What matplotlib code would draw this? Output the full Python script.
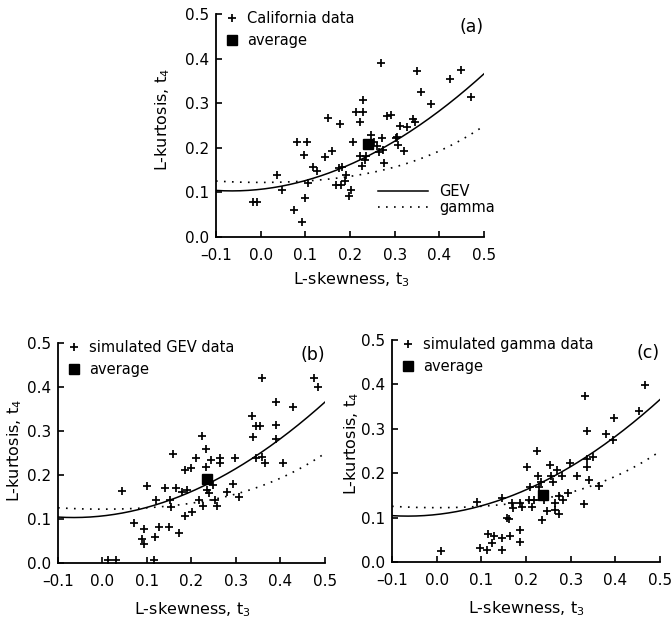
import numpy as np
import matplotlib
matplotlib.use("Agg")
import matplotlib.pyplot as plt
from matplotlib.lines import Line2D

plt.rcParams["font.family"] = ["DejaVu Sans"]
plt.rcParams["mathtext.default"] = "regular"

# L-moment ratio diagram polynomial approximations (Hosking):
# tau4 as a polynomial in tau3, coefficients from constant term upwards
gev_coef = [0.10701, 0.11090, 0.84838, -0.06669, 0.00567, -0.04208, 0.03763]
gamma_coef = [0.12240, 0.0, 0.30115, 0.0, 0.95812, 0.0, -0.57488, 0.0, 0.19383]

# (a) California data: L-skewness t3 and L-kurtosis t4
cal_t3 = [-0.018, -0.008, 0.036, 0.047, 0.075, 0.092, 0.081, 0.103, 0.097, 0.100,
          0.105, 0.118, 0.127, 0.144, 0.151, 0.160, 0.178, 0.176, 0.183, 0.169,
          0.181, 0.190, 0.189, 0.198, 0.202, 0.207, 0.213, 0.230, 0.230, 0.222,
          0.222, 0.228, 0.234, 0.248, 0.254, 0.260, 0.271, 0.269, 0.273, 0.277,
          0.282, 0.292, 0.303, 0.308, 0.312, 0.321, 0.328, 0.340, 0.346, 0.351,
          0.359, 0.381, 0.425, 0.449, 0.471, 0.235, 0.264, 0.306]
cal_t4 = [0.078, 0.078, 0.138, 0.106, 0.061, 0.033, 0.212, 0.212, 0.184, 0.087,
          0.121, 0.158, 0.147, 0.180, 0.266, 0.192, 0.254, 0.154, 0.158, 0.117,
          0.117, 0.140, 0.125, 0.091, 0.106, 0.212, 0.281, 0.281, 0.307, 0.257,
          0.182, 0.160, 0.173, 0.229, 0.214, 0.203, 0.222, 0.390, 0.196, 0.167,
          0.272, 0.274, 0.222, 0.207, 0.248, 0.192, 0.246, 0.265, 0.259, 0.373,
          0.326, 0.299, 0.354, 0.375, 0.315, 0.182, 0.190, 0.225]
cal_avg = (0.240, 0.208)

# (b) simulated GEV data
gev_t3 = [0.013, 0.031, 0.115, 0.044, 0.070, 0.093, 0.088, 0.093, 0.101, 0.118,
          0.121, 0.126, 0.140, 0.150, 0.151, 0.155, 0.159, 0.166, 0.172, 0.185,
          0.185, 0.189, 0.200, 0.202, 0.211, 0.217, 0.223, 0.226, 0.232, 0.232,
          0.240, 0.243, 0.249, 0.253, 0.258, 0.264, 0.264, 0.279, 0.294, 0.298,
          0.307, 0.337, 0.339, 0.346, 0.354, 0.358, 0.345, 0.358, 0.365, 0.390,
          0.391, 0.391, 0.405, 0.429, 0.475, 0.484, 0.234, 0.178]
gev_t4 = [0.008, 0.008, 0.008, 0.164, 0.091, 0.078, 0.054, 0.044, 0.174, 0.060,
          0.144, 0.083, 0.170, 0.083, 0.144, 0.128, 0.248, 0.170, 0.068, 0.211,
          0.106, 0.166, 0.215, 0.117, 0.238, 0.144, 0.289, 0.130, 0.259, 0.219,
          0.159, 0.234, 0.178, 0.144, 0.130, 0.238, 0.227, 0.162, 0.180, 0.238,
          0.150, 0.334, 0.286, 0.311, 0.311, 0.421, 0.238, 0.242, 0.228, 0.366,
          0.313, 0.283, 0.228, 0.355, 0.421, 0.400, 0.166, 0.162]
gev_avg = (0.234, 0.190)

# (c) simulated gamma data
gam_t3 = [0.010, 0.090, 0.096, 0.112, 0.115, 0.124, 0.129, 0.146, 0.147, 0.147,
          0.157, 0.161, 0.165, 0.168, 0.172, 0.187, 0.187, 0.187, 0.191, 0.203,
          0.208, 0.206, 0.213, 0.217, 0.224, 0.228, 0.233, 0.235, 0.241, 0.248,
          0.254, 0.255, 0.261, 0.264, 0.265, 0.269, 0.273, 0.274, 0.280, 0.282,
          0.295, 0.299, 0.315, 0.331, 0.332, 0.336, 0.337, 0.337, 0.340, 0.349,
          0.364, 0.379, 0.394, 0.398, 0.454, 0.466, 0.230]
gam_t4 = [0.024, 0.136, 0.031, 0.028, 0.064, 0.043, 0.058, 0.144, 0.054, 0.028,
          0.099, 0.097, 0.058, 0.133, 0.121, 0.073, 0.046, 0.133, 0.125, 0.214,
          0.170, 0.140, 0.125, 0.140, 0.251, 0.193, 0.181, 0.094, 0.140, 0.114,
          0.219, 0.193, 0.181, 0.133, 0.118, 0.208, 0.148, 0.109, 0.194, 0.140,
          0.155, 0.224, 0.193, 0.131, 0.375, 0.232, 0.213, 0.294, 0.184, 0.236,
          0.172, 0.289, 0.275, 0.324, 0.339, 0.399, 0.170]
gam_avg = (0.239, 0.151)

x_ticks = [-0.1, 0.0, 0.1, 0.2, 0.3, 0.4, 0.5]
y_ticks = [0.0, 0.1, 0.2, 0.3, 0.4, 0.5]

fig = plt.figure(figsize=(6.72, 6.2), dpi=100)
layout = {
    # axes rectangle, xlabel centre, ylabel centre, panel-letter y
    "a": ([0.3214, 0.6177, 0.3988, 0.3597], (0.504, -0.19), (-0.198, 0.525), 0.94),
    "b": ([0.0863, 0.0919, 0.3973, 0.3548], (0.502, -0.21), (-0.161, 0.51), 0.945),
    "c": ([0.5833, 0.0935, 0.3988, 0.3581], (0.500, -0.212), (-0.149, 0.535), 0.94),
}

tau3 = np.linspace(-0.1, 0.5, 200)
gev_curve = np.polynomial.polynomial.polyval(tau3, gev_coef)
gamma_curve = np.polynomial.polynomial.polyval(tau3, gamma_coef)
dots = (0, (1, 3.8))
plus_kw = dict(linestyle="none", marker="+", ms=6.2, mew=1.25, color="black")
avg_kw = dict(linestyle="none", marker="s", ms=7.2, color="black")


def panel(key, t3, t4, avg, data_label, show_lines_legend):
    rect, xl, yl, letter_y = layout[key]
    ax = fig.add_axes(rect)
    ax.plot(tau3, gev_curve, color="black", lw=1.1, label="GEV")
    ax.plot(tau3, gamma_curve, color="black", lw=1.2, linestyle=dots, label="gamma")
    ax.plot(t3, t4, **plus_kw)
    ax.plot([avg[0]], [avg[1]], **avg_kw)

    ax.set_xlim(-0.1, 0.5)
    ax.set_ylim(0.0, 0.5)
    ax.set_xticks(x_ticks)
    ax.set_yticks(y_ticks)
    ax.set_xticklabels([f"{v:.1f}".replace("-", "\u2013") for v in x_ticks])
    ax.set_yticklabels([f"{v:.1f}" for v in y_ticks])
    for side in ("top", "right"):
        ax.spines[side].set_visible(False)
    for side in ("left", "bottom"):
        ax.spines[side].set_linewidth(1.3)
    ax.tick_params(direction="in", length=4, width=1.2, labelsize=11)
    ax.tick_params(axis="x", pad=8)
    ax.tick_params(axis="y", pad=5)

    ax.set_xlabel("L-skewness, t$_3$", fontsize=11.5)
    ax.xaxis.set_label_coords(*xl)
    ax.xaxis.label.set_va("center")
    ax.set_ylabel("L-kurtosis, t$_4$", fontsize=11.5)
    ax.yaxis.set_label_coords(*yl)
    ax.yaxis.label.set_va("center")
    ax.yaxis.label.set_ha("center")

    ax.text(1.0, letter_y, f"({key})", transform=ax.transAxes, ha="right",
            va="center", fontsize=12.5)

    marks = [Line2D([], [], **plus_kw), Line2D([], [], **avg_kw)]
    leg = ax.legend(marks, [data_label, "average"], loc="upper left",
                    bbox_to_anchor=(0.037, 1.015), frameon=False, fontsize=10.5,
                    handlelength=0.9, handletextpad=0.58, labelspacing=0.5,
                    borderaxespad=0, borderpad=0)
    if show_lines_legend:
        ax.add_artist(leg)
        lines = [Line2D([], [], color="black", lw=1.1),
                 Line2D([], [], color="black", lw=1.2, linestyle=dots)]
        ax.legend(lines, ["GEV", "gamma"], loc="lower right",
                  bbox_to_anchor=(1.042, 0.10), frameon=False, fontsize=10.5,
                  handlelength=3.4, handletextpad=0.8, labelspacing=0.05,
                  borderaxespad=0, borderpad=0)
    return ax


panel("a", cal_t3, cal_t4, cal_avg, "California data", True)
panel("b", gev_t3, gev_t4, gev_avg, "simulated GEV data", False)
panel("c", gam_t3, gam_t4, gam_avg, "simulated gamma data", False)

fig.savefig("out.png", dpi=100)
